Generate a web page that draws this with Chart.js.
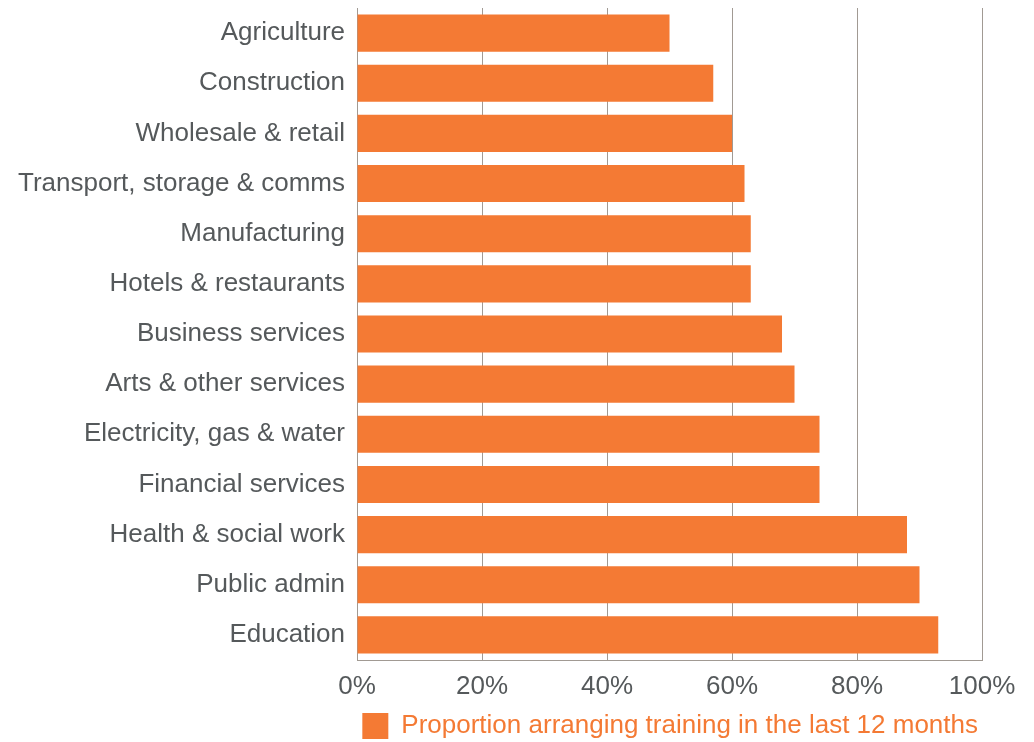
<!DOCTYPE html>
<html>
<head>
<meta charset="utf-8">
<script src="https://cdn.jsdelivr.net/npm/chart.js@4/dist/chart.umd.min.js"></script>
<style>
html,body{margin:0;padding:0;background:#fff;}
#wrap{width:1034px;height:742px;position:relative;}
</style>
</head>
<body>
<div id="wrap"><canvas id="c" width="1034" height="742"></canvas></div>
<script>
const categories = ["Agriculture","Construction","Wholesale & retail","Transport, storage & comms","Manufacturing","Hotels & restaurants","Business services","Arts & other services","Electricity, gas & water","Financial services","Health & social work","Public admin","Education"];
const seriesName = "Proportion arranging training in the last 12 months";
const values = [50,57,60,62,63,63,68,70,74,74,88,90,93];
const xTicks = [0,20,40,60,80,100];

const orange = "#F47A34";
const textGray = "#55595b";
const gridGray = "#a19a93";
const fontFamily = "'Liberation Sans', Arial, sans-serif";

new Chart(document.getElementById('c'), {
  type: 'bar',
  data: {
    labels: categories,
    datasets: [{
      label: seriesName,
      data: values,
      backgroundColor: orange,
      borderWidth: 0,
      barPercentage: 0.74,
      categoryPercentage: 1.0
    }]
  },
  options: {
    indexAxis: 'y',
    responsive: false,
    animation: false,
    devicePixelRatio: 1,
    layout: { padding: { top: 8, right: 52, bottom: -7, left: 6 } },
    plugins: {
      tooltip: { enabled: false },
      legend: {
        position: 'bottom',
        align: 'end',
        labels: {
          boxWidth: 26,
          boxHeight: 26,
          color: orange,
          padding: 4,
          font: { family: fontFamily, size: 26, lineHeight: 1.0 }
        }
      }
    },
    scales: {
      x: {
        min: 0, max: 100,
        afterBuildTicks: (axis) => { axis.ticks = xTicks.map(v => ({ value: v })); },
        afterFit: (axis) => { axis.height = 49; },
        grid: { color: gridGray, lineWidth: 1, drawTicks: false },
        border: { color: gridGray, width: 1 },
        ticks: {
          padding: 11,
          color: textGray,
          font: { family: fontFamily, size: 26 },
          callback: (v) => v + '%',
          maxRotation: 0
        }
      },
      y: {
        afterFit: (axis) => { axis.paddingTop = 0; axis.paddingBottom = 0; },
        grid: { display: false, drawTicks: false },
        border: { color: gridGray, width: 1 },
        ticks: {
          padding: 12,
          color: textGray,
          font: { family: fontFamily, size: 26 }
        }
      }
    }
  }
});
</script>
</body>
</html>
